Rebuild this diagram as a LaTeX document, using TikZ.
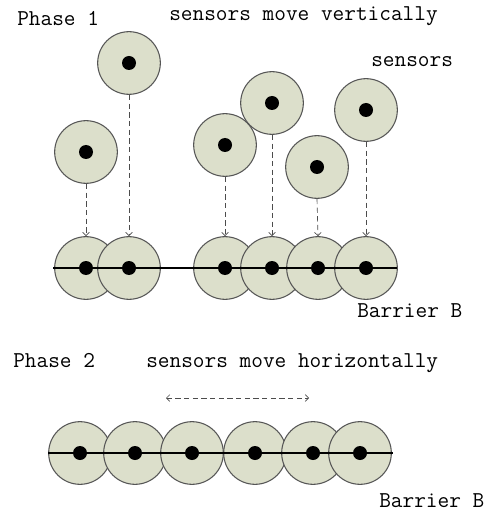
\documentclass[tikz,border=0pt]{standalone}
\usetikzlibrary{arrows.meta}
\definecolor{sensorfill}{HTML}{DCDFCB}
\definecolor{rimcolor}{HTML}{555555}
\begin{document}
\begin{tikzpicture}[x=0.75pt,y=-0.75pt,
  sensor/.style={circle,draw=rimcolor,line width=0.8pt,fill=sensorfill,minimum size=47pt,inner sep=0pt},
  dot/.style={circle,fill=black,minimum size=10.5pt,inner sep=0pt},
  barrier/.style={line width=2.2pt,black},
  move/.style={draw=black!70,line width=0.5pt,dash pattern=on 4pt off 2.5pt,-{Straight Barb[length=2.5pt,width=5pt]}},
  label/.style={anchor=base west,inner sep=0pt,font=\fontsize{17}{20}\selectfont\ttfamily}]
\useasboundingbox (0,0) rectangle (494,513);

% Phase 1: sensors before moving
\foreach \n/\x/\y in {1/86/152, 2/129/63, 3/225/145, 4/272/103, 5/317/167, 6/366/110}{
  \node[sensor] (t\n) at (\x,\y) {};
  \node[dot] at (t\n) {};
}
% Phase 1: sensors on the barrier
\foreach \n/\x in {1/86, 2/129, 3/225, 4/272, 5/318, 6/366}{
  \node[sensor] (b\n) at (\x,268) {};
}
\coordinate (bl) at (53,268);
\coordinate (br) at (397,268);
\draw[barrier] (bl) -- (br);
\foreach \n in {1,...,6}{
  \node[dot] at (b\n) {};
  \draw[move] (t\n.south) -- (b\n.north);
}

% Phase 2: sensors spread along the barrier
\foreach \n/\x in {1/80, 2/135, 3/192, 4/255, 5/313, 6/360}{
  \node[sensor] (p\n) at (\x,453) {};
}
\coordinate (pl) at (48,453);
\coordinate (pr) at (393,453);
\draw[barrier] (pl) -- (pr);
\foreach \n in {1,...,6}{
  \node[dot] at (p\n) {};
}
\coordinate (hl) at (166,398);
\coordinate (hr) at (309,398);
\draw[move,{Straight Barb[length=2.5pt,width=5pt]}-{Straight Barb[length=2.5pt,width=5pt]}] (hl) -- (hr);

% Labels
\node[label] (ph1) at (17,26) {Phase 1};
\node[label] (mv1) at (169,21) {sensors move vertically};
\node[label] (sen) at (371,67) {sensors};
\node[label] (bb1) at (357,317) {Barrier B};
\node[label] (ph2) at (13,367) {Phase 2};
\node[label] (mv2) at (146,367) {sensors move horizontally};
\node[label] (bb2) at (379,507) {Barrier B};
\end{tikzpicture}
\end{document}
